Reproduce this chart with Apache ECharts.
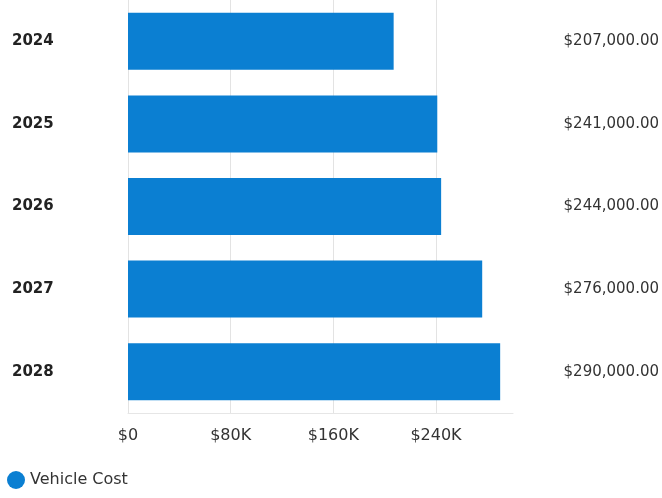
<!DOCTYPE html>
<html>
<head>
<meta charset="utf-8">
<script src="https://cdn.jsdelivr.net/npm/echarts@6/dist/echarts.min.js"></script>
<style>html,body{margin:0;padding:0;background:#fff;}#c{width:662px;height:498px;}</style>
</head>
<body>
<div id="c"></div>
<script>
var categories = ['2024', '2025', '2026', '2027', '2028'];
var vehicleCost = [207000, 241000, 244000, 276000, 290000];
var xTicks = [0, 80000, 160000, 240000];
var seriesName = 'Vehicle Cost';

function money(v) {
  return '$' + v.toLocaleString('en-US', {minimumFractionDigits: 2, maximumFractionDigits: 2});
}
function kLabel(v) {
  return v === 0 ? '$0' : '$' + (v / 1000) + 'K';
}

var chart = echarts.init(document.getElementById('c'));
chart.setOption({
  animation: false,
  textStyle: {fontFamily: 'DejaVu Sans'},
  grid: {left: 128, right: 148, top: 0, bottom: 85, containLabel: false},
  legend: {
    left: 2, bottom: 4,
    icon: 'circle', itemWidth: 18, itemHeight: 18, itemGap: 10,
    textStyle: {fontSize: 16, color: '#333', fontFamily: 'DejaVu Sans'},
    data: [seriesName]
  },
  xAxis: {
    type: 'value', min: 0, max: 300000, interval: 80000,
    axisLine: {show: true, lineStyle: {color: '#e6e6e6'}},
    axisTick: {show: false},
    splitLine: {show: true, showMaxLine: false, lineStyle: {color: '#e3e3e3'}},
    axisLabel: {
      showMaxLabel: false, margin: 15, fontSize: 16, color: '#333',
      formatter: function (v) { return xTicks.indexOf(v) >= 0 ? kLabel(v) : ''; }
    }
  },
  yAxis: [{
    type: 'category', inverse: true, data: categories,
    axisLine: {show: false}, axisTick: {show: false},
    axisLabel: {align: 'left', margin: 116, fontSize: 15, fontWeight: 'bold', color: '#222'}
  }, {
    type: 'category', inverse: true, position: 'right', data: categories,
    axisLine: {show: false}, axisTick: {show: false},
    axisLabel: {
      align: 'right', margin: 146, fontSize: 15, color: '#333', padding: [12, 0, 0, 0],
      formatter: function (v, i) { return money(vehicleCost[i]); }
    }
  }],
  series: [{
    name: seriesName, type: 'bar', data: vehicleCost,
    barCategoryGap: '31%',
    itemStyle: {color: '#0b7fd2'}
  }]
});
</script>
</body>
</html>
